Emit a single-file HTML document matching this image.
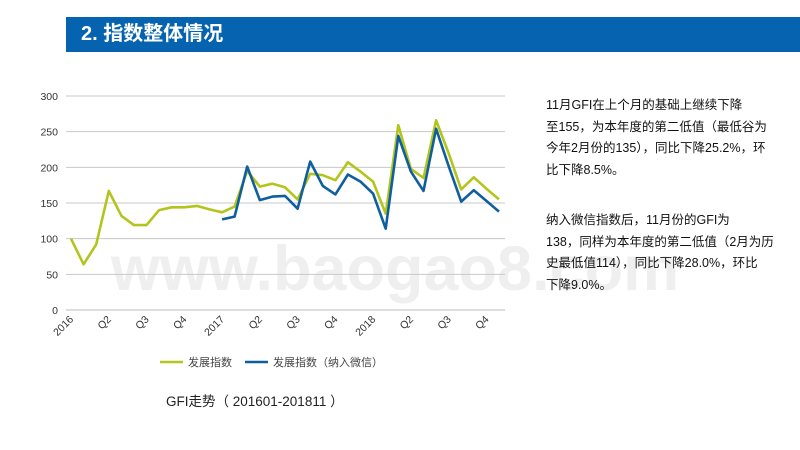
<!DOCTYPE html>
<html><head><meta charset="utf-8"><style>
body{margin:0;width:800px;height:450px;background:#fff;overflow:hidden;position:relative;font-family:"Liberation Sans","Noto Sans CJK SC",sans-serif}
#hdr{position:absolute;left:66px;top:17px;width:734px;height:35px;background:#0563b0;color:#fff;font-weight:bold;font-size:20px;line-height:35px;box-sizing:border-box;padding-left:15px}
.txt{position:absolute;left:546px;font-size:12.5px;color:#111;line-height:21.5px;width:240px}
#cap{position:absolute;left:166px;top:390px;font-size:13.5px;color:#222}
</style></head><body>
<div id="hdr">2. 指数整体情况</div>
<svg id="chart" width="800" height="450" style="position:absolute;left:0;top:0"></svg>
<div class="txt" style="top:95px">11月GFI在上个月的基础上继续下降<br>至155，为本年度的第二低值（最低谷为<br>今年2月份的135），同比下降25.2%，环<br>比下降8.5%。</div>
<div class="txt" style="top:210px">纳入微信指数后，11月份的GFI为<br>138，同样为本年度的第二低值（2月为历<br>史最低值114），同比下降28.0%，环比<br>下降9.0%。</div>
<div id="cap">GFI走势（ 201601-201811 ）</div>
<script>
const yTicks=[0,50,100,150,200,250,300];
const xLabels=["2016","Q2","Q3","Q4","2017","Q2","Q3","Q4","2018","Q2","Q3","Q4"];
const xLabelIdx=[0,3,6,9,12,15,18,21,24,27,30,33];
const devIndex=[100,64,92,167,132,119,119,140,144,144,146,141,137,145,195,173,177,172,155,191,189,182,207,194,180,135,259,198,185,266,220,169,186,170,155];
const devIndexWechat=[null,null,null,null,null,null,null,null,null,null,null,null,127,131,201,154,159,160,142,208,174,162,190,180,163,114,244,194,167,254,202,152,168,153,138];
const NS="http://www.w3.org/2000/svg";
const svg=document.getElementById('chart');
const x=i=>71+i*(499-71)/34;
const y=v=>310-v*(214/300);
function mk(t,a){const e=document.createElementNS(NS,t);for(const k in a)e.setAttribute(k,a[k]);svg.appendChild(e);return e;}
let w=mk('text',{x:395,y:290,'font-size':63,'font-weight':'bold','text-anchor':'middle',fill:'#efefef','font-family':'Liberation Sans, sans-serif'});
w.textContent='www.baogao8.com';


yTicks.forEach(t=>{
  const g=mk('line',{x1:66,x2:505,y1:y(t),y2:y(t),stroke:t===0?'#bbb':'#c8c8c8','stroke-width':1});
  
  
  const l=mk('text',{x:58,y:y(t)+4,'font-size':10.5,'text-anchor':'end',fill:'#333'});
  l.textContent=t;
  
  
});
xLabels.forEach((s,k)=>{
  const px=x(xLabelIdx[k])+3,py=320;
  const l=mk('text',{x:px,y:py,'font-size':10.5,'text-anchor':'end',fill:'#333',transform:`rotate(-45 ${px} ${py})`});
  l.textContent=s;
  
  
});
function line(arr,color,name){
  let d='';arr.forEach((v,i)=>{if(v==null)return;d+=(d?'L':'M')+x(i).toFixed(1)+','+y(v).toFixed(1);});
  const p=mk('path',{d:d,fill:'none',stroke:color,'stroke-width':2.6,'stroke-linejoin':'round'});
  
  
}
line(devIndex,'#b3c51d','series-dev-index');
line(devIndexWechat,'#0f5f9e','series-dev-index-wechat');
[[160,'#b3c51d','发展指数'],[245,'#0f5f9e','发展指数（纳入微信）']].forEach(([lx,c,s])=>{
  const ln=mk('line',{x1:lx,x2:lx+23,y1:362,y2:362,stroke:c,'stroke-width':2.6});
  
  
  const t=mk('text',{x:lx+28,y:366,'font-size':11,fill:'#444'});
  t.textContent=s;
  
  
});
</script>
</body></html>
